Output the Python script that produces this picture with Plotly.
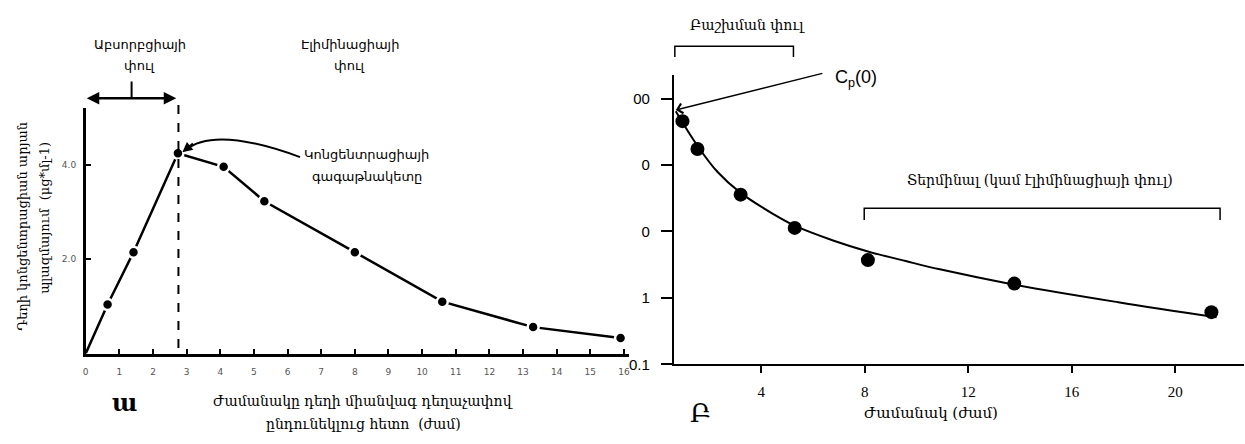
import plotly.graph_objects as go

W, H = 1245, 444

# ---- Left panel data (linear) ----
left_time = [0, 0.65, 1.42, 2.74, 4.1, 5.31, 8.0, 10.6, 13.3, 15.9]
left_conc = [0, 1.04, 2.15, 4.25, 3.96, 3.23, 2.15, 1.1, 0.56, 0.33]
left_xticks = list(range(0, 17))
left_yticks = [2.0, 4.0]
left_yticklabels = ["2.0", "4.0"]

# ---- Right panel data (log) ----
right_time = [0.95, 1.53, 3.2, 5.29, 8.12, 13.78, 21.4]
right_conc = [457, 174, 35.8, 11.3, 3.7, 1.64, 0.61]
curve_time = [0.69, 1.53, 2.3, 3.2, 4.48, 5.29, 6.8, 8.12, 9.62, 10.9, 13.78, 17.8, 21.6]
curve_conc = [645, 195, 79, 38, 18.1, 12.2, 7.24, 5.0, 3.55, 2.69, 1.58, 0.86, 0.51]
right_xticks = [4, 8, 12, 16, 20]
right_yticks = [0.1, 1, 10, 100, 1000]
right_yticklabels = ["0.1", "1", "0", "0", "00"]

ARM_SANS = "DejaVu Sans, sans-serif"
ARM_SERIF = "DejaVu Serif, DejaVu Sans, serif"


def px(x):
    return x / W


def py(y):
    return 1 - y / H


fig = go.Figure()

fig.add_trace(go.Scatter(x=left_time, y=left_conc, mode="lines",
                         line=dict(color="black", width=2.5),
                         xaxis="x", yaxis="y", showlegend=False, hoverinfo="skip"))
fig.add_trace(go.Scatter(x=left_time[1:], y=left_conc[1:], mode="markers",
                         marker=dict(color="black", size=11, line=dict(color="white", width=2.5)),
                         xaxis="x", yaxis="y", showlegend=False))

fig.add_trace(go.Scatter(x=curve_time, y=curve_conc, mode="lines",
                         line=dict(color="black", width=2, shape="spline", smoothing=1.0),
                         xaxis="x2", yaxis="y2", showlegend=False, hoverinfo="skip"))
fig.add_trace(go.Scatter(x=right_time, y=right_conc, mode="markers",
                         marker=dict(color="black", size=14),
                         xaxis="x2", yaxis="y2", showlegend=False))

axis_common = dict(showgrid=False, zeroline=False, showline=True, linecolor="black",
                   mirror=False, fixedrange=True)

fig.update_layout(
    width=W, height=H,
    margin=dict(l=0, r=0, t=0, b=0),
    paper_bgcolor="white", plot_bgcolor="white",
    xaxis=dict(domain=[px(83), px(628)], range=[0, 16.15], anchor="y",
               tickvals=left_xticks, ticks="inside", ticklen=5, tickwidth=1.5,
               tickcolor="black", linewidth=2.5, ticklabelstandoff=8,
               tickfont=dict(family=ARM_SANS, size=9, color="#555"), **axis_common),
    yaxis=dict(domain=[py(360), py(110)], range=[0, 5.208], anchor="x",
               tickvals=left_yticks, ticktext=left_yticklabels, ticks="inside",
               ticklen=6, tickwidth=1.5, tickcolor="black", linewidth=2.5,
               ticklabelstandoff=5,
               tickfont=dict(family=ARM_SANS, size=9, color="#555"), **axis_common),
    xaxis2=dict(domain=[px(673), 1.0], range=[0.617, 22.66], anchor="y2",
                tickvals=right_xticks, ticks="outside", ticklen=7, tickwidth=1.5,
                tickcolor="black", linewidth=2, ticklabelstandoff=6,
                tickfont=dict(family="Liberation Serif, serif", size=15, color="black"),
                **axis_common),
    yaxis2=dict(domain=[py(371), py(76)], type="log", range=[-1.0, 3.36], anchor="x2",
                tickvals=right_yticks, ticktext=right_yticklabels, ticks="outside",
                ticklen=11, tickwidth=1.5, tickcolor="black", linewidth=2,
                ticklabelstandoff=8,
                tickfont=dict(family="Liberation Sans, sans-serif", size=15, color="black"),
                **axis_common),
)

shapes = []
# dashed vertical line at peak
shapes.append(dict(type="line", xref="paper", yref="paper", x0=px(176), x1=px(176),
                   y0=py(107), y1=py(360), line=dict(color="black", width=2, dash="dash")))
# small vertical tick above double arrow
shapes.append(dict(type="line", xref="paper", yref="paper", x0=px(129), x1=px(129),
                   y0=py(83), y1=py(100), line=dict(color="black", width=2)))
# curved arrow to peak
p0, c, p2 = (298, 160), (212, 128), (183, 153)
shapes.append(dict(type="path", xref="paper", yref="paper",
                   path=f"M {px(p0[0])},{py(p0[1])} Q {px(c[0])},{py(c[1])} {px(p2[0])},{py(p2[1])}",
                   line=dict(color="black", width=2)))
# bracket: distribution phase
shapes.append(dict(type="path", xref="paper", yref="paper",
                   path=f"M {px(674)},{py(58)} L {px(674)},{py(47)} L {px(793)},{py(47)} L {px(793)},{py(58)}",
                   line=dict(color="black", width=1.5)))
# bracket: terminal phase
shapes.append(dict(type="path", xref="paper", yref="paper",
                   path=f"M {px(864)},{py(224)} L {px(864)},{py(212)} L {px(1221)},{py(212)} L {px(1221)},{py(224)}",
                   line=dict(color="black", width=1.5)))
fig.update_layout(shapes=shapes)

ann = []


def text(x, y, t, size, family=ARM_SANS, angle=0, color="black"):
    ann.append(dict(x=px(x), y=py(y), xref="paper", yref="paper", text=t, showarrow=False,
                    textangle=angle, xanchor="center", yanchor="middle",
                    font=dict(family=family, size=size, color=color)))


# left panel texts
text(137, 45, "Աբսորբցիայի", 13)
text(137, 67, "փուլ", 13)
text(348, 45, "Էլիմինացիայի", 13)
text(348, 67, "փուլ", 13)
text(365, 157, "Կոնցենտրացիայի", 13)
text(365, 180, "գագաթնակետը", 13)
text(20, 230, "Դեղի կոնցենտրացիան արյան", 13, ARM_SERIF, -90)
text(41, 222, "պլազմայում  (μg*մլ-1)", 13, ARM_SERIF, -90)
text(122, 410, "<b>ա</b>", 24, ARM_SERIF)
text(361, 408, "Ժամանակը դեղի միանվագ դեղաչափով", 14, ARM_SERIF)
text(362, 432, "ընդունեկլուց հետո  (ժամ)", 14, ARM_SERIF)

# right panel texts
text(747, 25, "Բաշխման փուլ", 14, ARM_SERIF)
text(856, 80, "C<sub>p</sub>(0)", 18, "Liberation Sans, sans-serif")
text(1040, 183, "Տերմինալ (կամ էլիմինացիայի փուլ)", 14, ARM_SERIF)
text(931, 421, "Ժամանակ (ժամ)", 15, ARM_SERIF)
text(700, 421, "Բ", 26, ARM_SERIF)

# double arrow (absorption phase)
ann.append(dict(x=px(84), y=py(100), xref="paper", yref="paper", ax=91, ay=0, text="",
                showarrow=True, arrowside="end+start", arrowhead=2, arrowsize=1,
                arrowwidth=2.5, arrowcolor="black"))
# arrowhead for the curved arrow
ann.append(dict(x=px(180), y=py(155), xref="paper", yref="paper", ax=12, ay=-10, text="",
                showarrow=True, arrowhead=2, arrowsize=1, arrowwidth=2, arrowcolor="black"))
# Cp(0) arrow
ann.append(dict(x=px(675), y=py(112), xref="paper", yref="paper", ax=148, ay=-37, text="",
                showarrow=True, arrowhead=4, arrowsize=1.3, arrowwidth=1.5, arrowcolor="black"))

fig.update_layout(annotations=ann)

fig.write_html("out.html", config={"displayModeBar": False},
               post_script="document.body.style.margin='0px';")
